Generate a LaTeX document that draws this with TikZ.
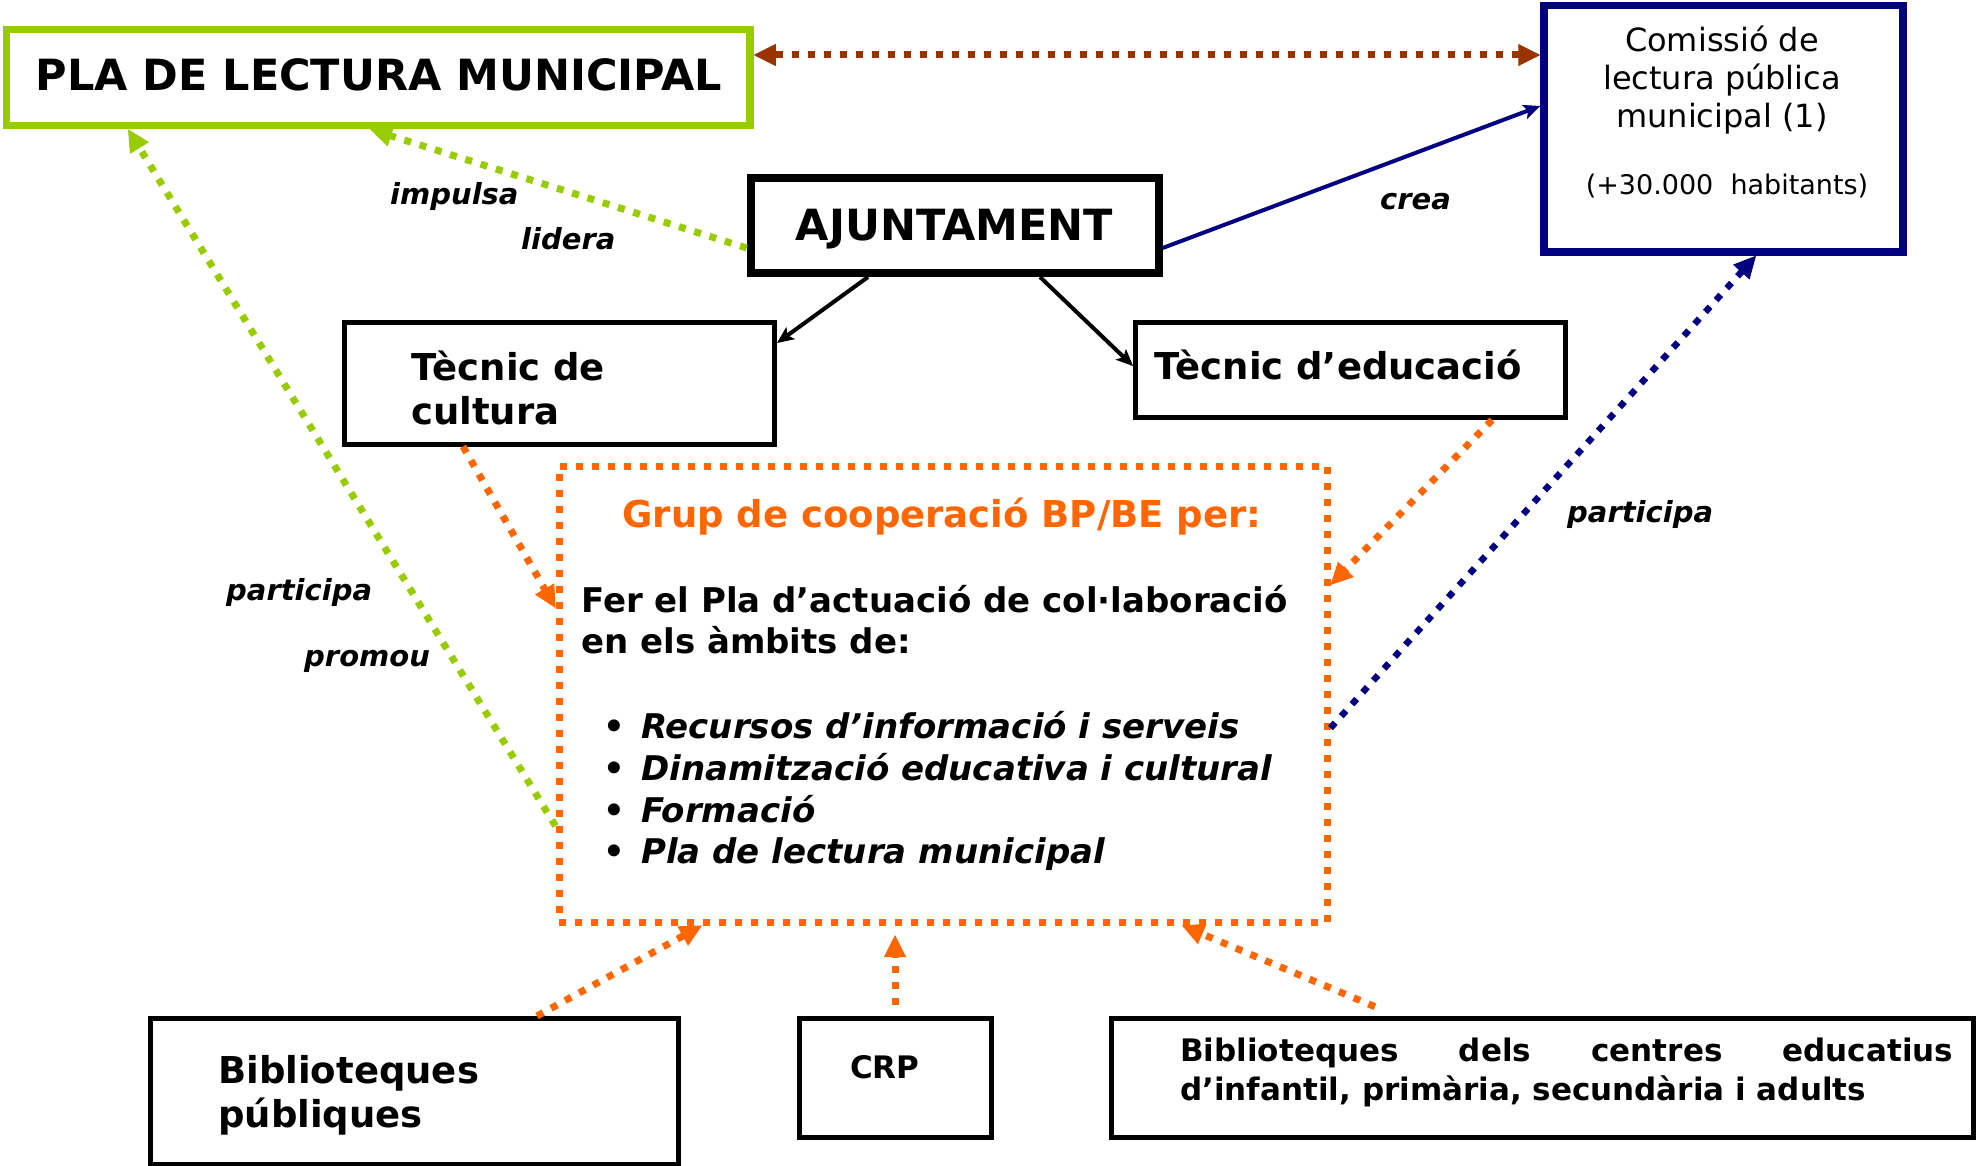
\documentclass[tikz,border=0pt]{standalone}
\usepackage{fontspec}
\newfontfamily\dv{DejaVu Sans}
\usetikzlibrary{arrows.meta}
\definecolor{plagreen}{HTML}{99CC00}
\definecolor{navyc}{HTML}{000080}
\definecolor{brownc}{HTML}{993300}
\definecolor{orangec}{HTML}{FF6600}
\newcommand\fsz[1]{\fontsize{#1}{#1}\selectfont}
\begin{document}
\begin{tikzpicture}[x=1pt,y=-1pt,
  box/.style={draw, line width=5pt, inner sep=0pt},
  dotline/.style={line width=7pt, dash pattern=on 7pt off 9pt},
  bigtip/.style={-{Triangle[length=22pt,width=22pt,line width=1pt]}},
  smalltip/.style={-{Stealth[length=17pt,width=15pt,inset=4pt,line width=1pt]}},
  txt/.style={inner sep=0pt, anchor=base west, font=\dv\bfseries\fsz{37}},
  mid/.style={inner sep=0pt, anchor=base west, font=\dv\bfseries\fsz{34}},
  small/.style={inner sep=0pt, anchor=base west, font=\dv\bfseries\fsz{31}},
  lbl/.style={inner sep=0pt, anchor=base west, font=\dv\bfseries\itshape\fsz{29}},
  com/.style={inner sep=0pt, anchor=base, font=\dv\fsz{32}},
]
\useasboundingbox (0,0) rectangle (1977,1166);
\fill[white] (0,0) rectangle (1977,1166);

% boxes
\node[box, draw=plagreen, line width=7.5pt, minimum width=743.6pt, minimum height=96pt] (pla) at (378.2,77.5) {};
\node[box, draw=navyc, line width=7.5pt, minimum width=359pt, minimum height=246.5pt] (com) at (1723.5,128.75) {};
\node[box, line width=8pt, minimum width=408pt, minimum height=95pt] (ajunt) at (954.7,225.5) {};
\node[box, minimum width=430.5pt, minimum height=122pt] (cult) at (559.25,383) {};
\node[box, minimum width=430pt, minimum height=95.5pt] (educ) at (1350.5,369.75) {};
\node[box, draw=orangec, line width=7pt, dash pattern=on 7pt off 9pt, minimum width=768pt, minimum height=456pt] (grup) at (943,694) {};
\node[box, minimum width=528pt, minimum height=146pt] (bpub) at (414.5,1091.5) {};
\node[box, minimum width=192pt, minimum height=119pt] (crp) at (895,1078) {};
\node[box, minimum width=862pt, minimum height=119pt] (bcen) at (1542,1078) {};

% connectors
\draw[dotline, brownc, {Triangle[length=22pt,width=22pt,line width=1pt]}-{Triangle[length=22pt,width=22pt,line width=1pt]}] (pla.east |- 0,55) -- (com.west |- 0,55);
\draw[dotline, plagreen, bigtip] (ajunt.west |- 0,248) -- (pla.south -| 370,0);
\draw[dotline, plagreen, bigtip] (grup.west |- 0,826) -- (pla.south -| 128,0);
\draw[line width=4pt, navyc, smalltip] (ajunt.east |- 0,248) -- (com.west |- 0,106);
\draw[dotline, line width=6.5pt, navyc, bigtip] (grup.east |- 0,728) -- (com.south -| 1756,0);
\draw[line width=4pt, smalltip] (ajunt.south -| 868,0) -- (cult.east |- 0,343);
\draw[line width=4pt, smalltip] (ajunt.south -| 1040,0) -- (educ.west |- 0,366);
\draw[dotline, orangec, bigtip] (cult.south -| 463,0) -- (grup.west |- 0,608);
\draw[dotline, orangec, bigtip] (educ.south -| 1492,0) -- (grup.east |- 0,585);
\draw[dotline, orangec, bigtip] (bpub.north -| 537,0) -- (grup.south -| 702,0);
\draw[dotline, orangec, bigtip, shorten <=11pt, shorten >=9.5pt] (crp.north) -- (crp.north |- grup.south);
\draw[dotline, orangec, bigtip, shorten <=24pt] (bcen.north -| 1397,0) -- (grup.south -| 1182,0);

% texts
\node[inner sep=0pt, anchor=base, font=\dv\bfseries\fsz{43}] (plat) at (378.8,90.7) {PLA DE LECTURA MUNICIPAL};
\node[inner sep=0pt, anchor=base, font=\dv\bfseries\fsz{43}] (ajt) at (954.4,240.7) {AJUNTAMENT};
\node[com] (com1) at (1722,52) {Comissió de};
\node[com] (com2) at (1722,90) {lectura pública};
\node[com] (com3) at (1722,128) {municipal (1)};
\node[com, font=\dv\fsz{27}] (com4) at (1727,195) {(+30.000\ \ habitants)};
\node[txt] (cult1) at (411,380) {Tècnic de};
\node[txt] (cult2) at (411,424) {cultura};
\node[txt] (educt) at (1154,379) {Tècnic d’educació};
\node[txt, anchor=base, text=orangec] (grupt) at (942,527) {Grup de cooperació BP/BE per:};
\node[mid] (fer1) at (581,612.7) {Fer el Pla d’actuació de col·laboració};
\node[mid] (fer2) at (581,653) {en els àmbits de:};
\node[mid] (it1) at (603,738) {\makebox[38pt][l]{•}{\itshape Recursos d’informació i serveis}};
\node[mid] (it2) at (603,780) {\makebox[38pt][l]{•}{\itshape Dinamització educativa i cultural}};
\node[mid] (it3) at (603,822) {\makebox[38pt][l]{•}{\itshape Formació}};
\node[mid] (it4) at (603,863) {\makebox[38pt][l]{•}{\itshape Pla de lectura municipal}};
\node[txt] (bpub1) at (218,1083) {Biblioteques};
\node[txt] (bpub2) at (218,1127) {públiques};
\node[small] (crpt) at (850,1078.3) {CRP};
\node[small] (bcen1) at (1180,1061.7) {\makebox[773pt][s]{Biblioteques dels centres educatius}};
\node[small] (bcen2) at (1180,1100) {d’infantil, primària, secundària i adults};

% labels
\node[lbl] (limp) at (390,205) {impulsa};
\node[lbl] (llid) at (521,250) {lidera};
\node[lbl] (lcrea) at (1380,210) {crea};
\node[lbl] (lpar1) at (226,600.7) {participa};
\node[lbl] (lprom) at (304,666.7) {promou};
\node[lbl] (lpar2) at (1567,522.7) {participa};
\end{tikzpicture}
\end{document}
